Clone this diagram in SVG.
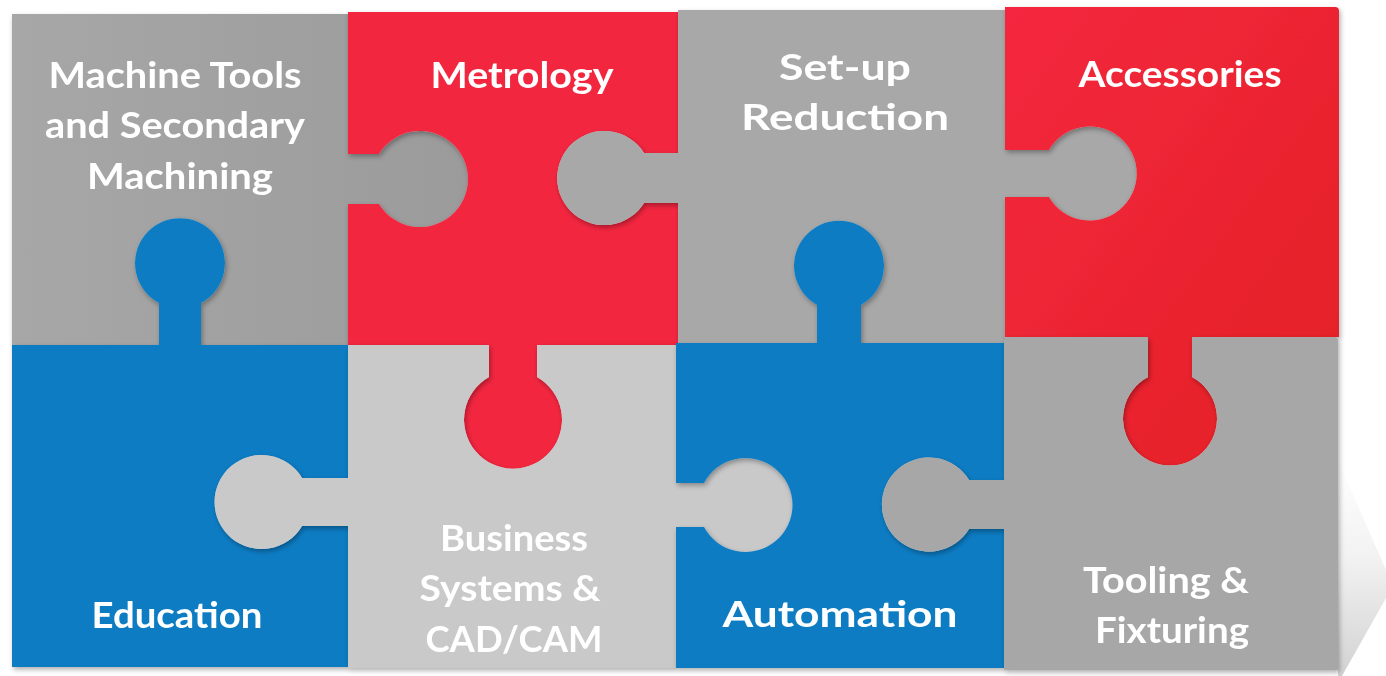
<svg xmlns="http://www.w3.org/2000/svg" width="1386" height="676" viewBox="0 0 1386 676">
  <defs>
    <filter id="sh" x="-5%" y="-5%" width="115%" height="115%">
      <feDropShadow dx="1.5" dy="2.5" stdDeviation="2.5" flood-color="#000" flood-opacity="0.32"/>
    </filter>
    <linearGradient id="gGray1" x1="0" y1="0" x2="1" y2="0">
      <stop offset="0" stop-color="#a7a7a7"/>
      <stop offset="1" stop-color="#9b9b9b"/>
    </linearGradient>
    <linearGradient id="gRed4" x1="0" y1="0" x2="1" y2="1">
      <stop offset="0" stop-color="#f4283f"/>
      <stop offset="1" stop-color="#e32024"/>
    </linearGradient>
    <linearGradient id="gWedge" x1="0" y1="0" x2="0" y2="1">
      <stop offset="0" stop-color="#ffffff"/>
      <stop offset="0.45" stop-color="#f2f2f2"/>
      <stop offset="1" stop-color="#d2d2d2"/>
    </linearGradient>
    <style>
      .piece { filter: url(#sh); }
      .lbl { fill: #ffffff; font-family: Lato, "Open Sans", sans-serif; font-weight: bold; font-size: 37px; text-anchor: middle; }
    </style>
  </defs>

  <rect width="1386" height="676" fill="#ffffff"/>

  <!-- reflection wedge at the bottom right -->
  <polygon points="1338,460 1386,570 1386,598 1342,676 1338,676" fill="url(#gWedge)"/>

  <g id="connectors"></g>

  <g id="node-machine-tools" class="piece">
    <path d="M12,14 H348 V154 H379 A48,48 0 1 1 379,204 H348 V345 H201 V303 A45,45 0 1 0 159,303 V345 H12 Z" fill="url(#gGray1)"/>
    <text class="lbl" x="175" y="88" textLength="253" lengthAdjust="spacingAndGlyphs">Machine Tools</text>
    <text class="lbl" x="175" y="138" textLength="260" lengthAdjust="spacingAndGlyphs">and Secondary</text>
    <text class="lbl" x="180" y="189" textLength="186" lengthAdjust="spacingAndGlyphs">Machining</text>
  </g>

  <g id="node-metrology" class="piece">
    <path d="M348,12 H678 V153 H644 A47,47 0 1 0 644,203 H678 V345 H537 V377 A49,49 0 1 1 489,377 V345 H348 V204 H379 A48,48 0 1 0 379,154 H348 Z" fill="#f3263f"/>
    <text class="lbl" x="522" y="88" textLength="183" lengthAdjust="spacingAndGlyphs">Metrology</text>
  </g>

  <g id="node-setup-reduction" class="piece">
    <path d="M678,10 H1005 V150 H1049 A47,47 0 1 1 1049,197 H1005 V343 H861 V305 A45,45 0 1 0 817,305 V343 H678 V203 H644 A47,47 0 1 1 644,153 H678 Z" fill="#a8a8a8"/>
    <text class="lbl" x="845" y="80" textLength="132" lengthAdjust="spacingAndGlyphs">Set-up</text>
    <text class="lbl" x="845" y="130" textLength="208" lengthAdjust="spacingAndGlyphs">Reduction</text>
  </g>

  <g id="node-accessories" class="piece">
    <path d="M1005,7 H1335 Q1339,7 1339,11 V337 H1192 V377 A47,47 0 1 1 1148,377 V337 H1005 V197 H1049 A47,47 0 1 0 1049,150 H1005 Z" fill="url(#gRed4)"/>
    <text class="lbl" x="1180" y="87" textLength="203" lengthAdjust="spacingAndGlyphs">Accessories</text>
  </g>

  <g id="node-education" class="piece">
    <path d="M12,345 H159 V303 A45,45 0 1 1 201,303 V345 H348 V478 H302 A47,47 0 1 0 302,526 H348 V667 H12 Z" fill="#0a7cc3"/>
    <text class="lbl" x="177" y="628" textLength="171" lengthAdjust="spacingAndGlyphs">Education</text>
  </g>

  <g id="node-business-systems" class="piece">
    <path d="M348,345 H489 V377 A49,49 0 1 0 537,377 V345 H676 V483 H704 A47,47 0 1 1 704,527 H676 V668 H348 V526 H302 A47,47 0 1 1 302,478 H348 Z" fill="#c9c9c9"/>
    <text class="lbl" x="514" y="551" textLength="148" lengthAdjust="spacingAndGlyphs">Business</text>
    <text class="lbl" x="510" y="601" textLength="181" lengthAdjust="spacingAndGlyphs">Systems &amp;</text>
    <text class="lbl" x="514" y="652" textLength="177" lengthAdjust="spacingAndGlyphs">CAD/CAM</text>
  </g>

  <g id="node-automation" class="piece">
    <path d="M676,343 H817 V305 A45,45 0 1 1 861,305 V343 H1004 V480 H969 A47,47 0 1 0 969,529 H1004 V668 H676 V527 H704 A47,47 0 1 0 704,483 H676 Z" fill="#0a7cc3"/>
    <text class="lbl" x="840" y="627" textLength="235" lengthAdjust="spacingAndGlyphs">Automation</text>
  </g>

  <g id="node-tooling-fixturing" class="piece">
    <path d="M1008,337 H1148 V377 A47,47 0 1 0 1192,377 V337 H1334 Q1338,337 1338,341 V670 H1004 V529 H969 A47,47 0 1 1 969,480 H1004 V341 Q1004,337 1008,337 Z" fill="#a7a7a7"/>
    <text class="lbl" x="1166" y="593" textLength="166" lengthAdjust="spacingAndGlyphs">Tooling &amp;</text>
    <text class="lbl" x="1172" y="643" textLength="154" lengthAdjust="spacingAndGlyphs">Fixturing</text>
  </g>
</svg>
